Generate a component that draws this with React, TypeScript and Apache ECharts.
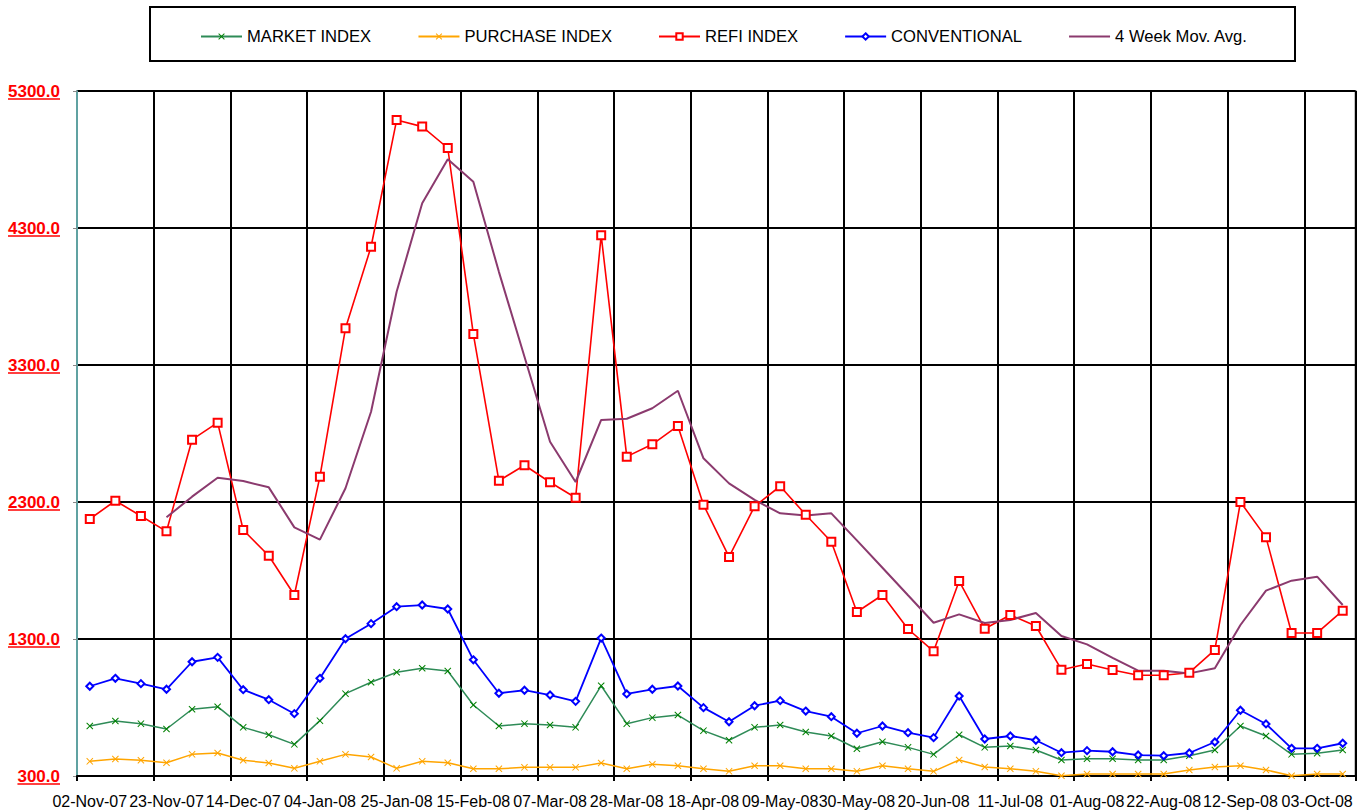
import React, { useEffect, useRef } from "react";
import * as echarts from "echarts";

const dates = [
  "02-Nov-07", "09-Nov-07", "16-Nov-07", "23-Nov-07", "30-Nov-07", "07-Dec-07", "14-Dec-07", "21-Dec-07", "28-Dec-07", "04-Jan-08",
  "11-Jan-08", "18-Jan-08", "25-Jan-08", "01-Feb-08", "08-Feb-08", "15-Feb-08", "22-Feb-08", "29-Feb-08", "07-Mar-08", "14-Mar-08",
  "21-Mar-08", "28-Mar-08", "04-Apr-08", "11-Apr-08", "18-Apr-08", "25-Apr-08", "02-May-08", "09-May-08", "16-May-08", "23-May-08",
  "30-May-08", "06-Jun-08", "13-Jun-08", "20-Jun-08", "27-Jun-08", "04-Jul-08", "11-Jul-08", "18-Jul-08", "25-Jul-08", "01-Aug-08",
  "08-Aug-08", "15-Aug-08", "22-Aug-08", "29-Aug-08", "05-Sep-08", "12-Sep-08", "19-Sep-08", "26-Sep-08", "03-Oct-08", "10-Oct-08",
];

const market = [
  665, 701, 682, 643, 787, 806, 655, 601, 531, 704,
  901, 984, 1057, 1086, 1066, 818, 665, 682, 672, 655,
  959, 682, 726, 745, 631, 561, 655, 672, 621, 592,
  499, 550, 509, 458, 601, 509, 519, 490, 417, 426,
  426, 417, 417, 448, 490, 665, 592, 458, 466, 490,
];

const purchase = [
  407, 424, 415, 397, 458, 468, 415, 395, 356, 407,
  458, 439, 356, 407, 397, 353, 353, 363, 363, 363,
  395, 353, 385, 375, 353, 334, 375, 375, 353, 353,
  334, 375, 353, 334, 417, 366, 353, 334, 302, 315,
  315, 315, 315, 344, 366, 375, 344, 302, 315, 315,
];

const refi = [
  2176, 2309, 2198, 2086, 2755, 2879, 2096, 1908, 1621, 2485,
  3568, 4163, 5088, 5040, 4884, 3526, 2455, 2568, 2444, 2331,
  4247, 2631, 2721, 2855, 2280, 1899, 2269, 2415, 2207, 2010,
  1497, 1621, 1373, 1210, 1723, 1375, 1475, 1395, 1076, 1118,
  1074, 1035, 1035, 1054, 1220, 2300, 2042, 1344, 1344, 1507,
];

const conventional = [
  955, 1013, 974, 933, 1134, 1166, 930, 857, 755, 1013,
  1302, 1412, 1536, 1548, 1519, 1148, 904, 926, 891, 845,
  1307, 899, 933, 957, 799, 696, 813, 850, 774, 733,
  612, 665, 616, 580, 884, 570, 592, 561, 470, 485,
  477, 453, 448, 468, 548, 780, 680, 502, 502, 539,
];

const movAvg = [
  null, null, null, 2188, 2339, 2477, 2453, 2407, 2115, 2025,
  2400, 2959, 3835, 4480, 4801, 4638, 3980, 3360, 2740, 2446,
  2899, 2908, 2984, 3112, 2619, 2436, 2315, 2217, 2202, 2217,
  2020, 1820, 1619, 1419, 1480, 1417, 1439, 1490, 1322, 1261,
  1163, 1069, 1069, 1049, 1086, 1402, 1653, 1726, 1755, 1548,
];

const yTicks = [300, 1300, 2300, 3300, 4300, 5300];

const seriesNames = ["MARKET INDEX", "PURCHASE INDEX", "REFI INDEX", "CONVENTIONAL", "4 Week Mov. Avg."];

const FONT = "'Liberation Sans', Arial, sans-serif";
const X_PATH = "path://M0,1L1,0L5,4L9,0L10,1L6,5L10,9L9,10L5,6L1,10L0,9L4,5Z";

export default function App() {
  const ref = useRef<HTMLDivElement>(null);
  useEffect(() => {
    const chart = echarts.init(ref.current as HTMLDivElement, null, { renderer: "svg" });
    const Y_LABEL_SIZE = 17;
    const Y_LABEL_MARGIN = 17;
    const GRID_LEFT = 77;
    const option: any = {
      animation: false,
      backgroundColor: "#ffffff",
      textStyle: { fontFamily: FONT },
      grid: {
        left: GRID_LEFT,
        right: 10.5,
        top: 91,
        bottom: 36,
        show: true,
        borderColor: "#8a8a8a",
        borderWidth: 2,
        containLabel: false,
        outerBoundsMode: "none",
      },
      legend: {
        left: 195,
        top: 23,
        itemWidth: 41,
        itemHeight: 8,
        itemGap: 46,
        textStyle: { fontSize: 16.6, color: "#000", fontFamily: FONT },
        data: [
          seriesNames[0],
          seriesNames[1],
          seriesNames[2],
          seriesNames[3],
          { name: seriesNames[4], itemStyle: { opacity: 0 } },
        ],
        selectedMode: false,
      },
      xAxis: {
        type: "category",
        data: dates,
        boundaryGap: true,
        axisLine: { lineStyle: { color: "#000", width: 2 } },
        axisTick: { show: true, interval: 2, length: 5, lineStyle: { color: "#000", width: 2 } },
        axisLabel: { interval: 2, fontSize: 16, color: "#000", margin: 17, hideOverlap: false, fontFamily: FONT },
        splitLine: { show: true, interval: 2, lineStyle: { color: "#000", width: 2 } },
      },
      yAxis: {
        type: "value",
        min: 300,
        max: 5300,
        axisLine: { show: true, lineStyle: { color: "#80d8d8", width: 1.5 } },
        axisTick: { show: true, length: 4, customValues: yTicks, lineStyle: { color: "#888" } },
        axisLabel: {
          customValues: yTicks,
          formatter: (v: number) => v.toFixed(1),
          color: "#ff0000",
          fontWeight: "bold",
          fontSize: Y_LABEL_SIZE,
          margin: Y_LABEL_MARGIN,
          fontFamily: FONT,
        },
        splitLine: { show: true, lineStyle: { color: "#000", width: 2 } },
      },
      series: [
        {
          name: seriesNames[0],
          type: "line",
          data: market,
          symbol: X_PATH,
          symbolSize: 7,
          itemStyle: { color: "#008000" },
          lineStyle: { color: "#2e8b57", width: 1.5 },
          silent: true,
        },
        {
          name: seriesNames[1],
          type: "line",
          data: purchase,
          symbol: X_PATH,
          symbolSize: 7,
          itemStyle: { color: "#ffa500" },
          lineStyle: { color: "#ffa500", width: 1.5 },
          silent: true,
        },
        {
          name: seriesNames[2],
          type: "line",
          data: refi,
          symbol: "emptyRect",
          symbolSize: 8,
          itemStyle: { color: "#ff0000", borderWidth: 1.5 },
          lineStyle: { color: "#ff0000", width: 1.6 },
          silent: true,
        },
        {
          name: seriesNames[3],
          type: "line",
          data: conventional,
          symbol: "emptyDiamond",
          symbolSize: 7,
          itemStyle: { color: "#0000ff", borderWidth: 1.5 },
          lineStyle: { color: "#0000ff", width: 1.8 },
          silent: true,
        },
        {
          name: seriesNames[4],
          type: "line",
          data: movAvg,
          symbol: "none",
          itemStyle: { color: "#8b3a6e" },
          lineStyle: { color: "#8b3a6e", width: 2 },
          silent: true,
        },
      ],
    };
    chart.setOption(option);

    // underlines for y labels + legend frame
    const canvas = document.createElement("canvas");
    const ctx = canvas.getContext("2d");
    const graphics: any[] = [
      {
        type: "rect",
        shape: { x: 150, y: 7, width: 1145, height: 54 },
        style: { fill: "none", stroke: "#000", lineWidth: 2 },
        silent: true,
      },
    ];
    const rightX = GRID_LEFT - Y_LABEL_MARGIN;
    yTicks.forEach((v) => {
      const py = chart.convertToPixel({ yAxisIndex: 0 }, v) as number;
      let w = 52;
      if (ctx) {
        ctx.font = `bold ${Y_LABEL_SIZE}px ${FONT}`;
        w = ctx.measureText(v.toFixed(1)).width;
      }
      graphics.push({
        type: "line",
        shape: { x1: rightX - w, y1: py + 8, x2: rightX, y2: py + 8 },
        style: { stroke: "#ff0000", lineWidth: 1.5 },
        silent: true,
      });
    });
    chart.setOption({ graphic: graphics });

    return () => chart.dispose();
  }, []);
  return <div ref={ref} style={{ position: "fixed", left: 0, top: 0, width: 1366, height: 812 }} />;
}
